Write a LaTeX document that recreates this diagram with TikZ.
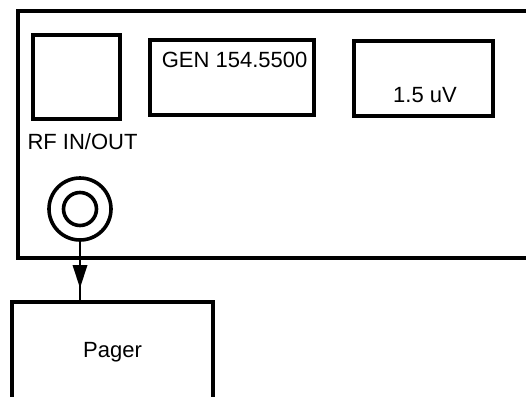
\documentclass[tikz,border=0pt]{standalone}
\usepackage{fontspec}
\setmainfont{Liberation Sans}
\usetikzlibrary{arrows.meta}

\begin{document}
\begin{tikzpicture}[x=1pt,y=-1pt,line width=3.6pt,
  font=\fontsize{22}{26}\selectfont,
  panelbox/.style={draw,inner sep=0pt,minimum width=#1}]

\useasboundingbox (0,0) rectangle (526,396);
\clip (0,0) rectangle (526,396);

% front panel, runs off to the right
\draw[line width=4pt] (532,11) -- (18,11) -- (18,258) -- (532,258);

\node[panelbox=87pt,minimum height=84pt] (port) at (76.5,77) {};
\node[panelbox=164pt,minimum height=75pt] (gen) at (232,77.5) {};
\node[panelbox=139pt,minimum height=75pt] (level) at (423.5,78.5) {};

\node[anchor=base west,inner sep=0pt] (gentext) at (160,67) {GEN 154.5500};
\node[anchor=base,inner sep=0pt] (leveltext) at (425,102) {1.5 uV};
\node[anchor=base,inner sep=0pt] (porttext) at (82.5,149) {RF IN/OUT};

% connector
\node[draw,circle,inner sep=0pt,minimum size=62pt] (conn) at (80,209) {};
\node[draw,circle,inner sep=0pt,minimum size=33pt] (conninner) at (conn.center) {};

\node[draw,minimum width=201pt,minimum height=100pt] (pager) at (112.5,352) {Pager};

\coordinate (tip) at (80,288);
\draw[line width=2.8pt] (conn.south) -- (conn.south |- pager.north);
\fill[line width=1pt,line join=miter] (tip) -- ++(-7.5,-23) -- ++(15,0) -- cycle;

\end{tikzpicture}
\end{document}
